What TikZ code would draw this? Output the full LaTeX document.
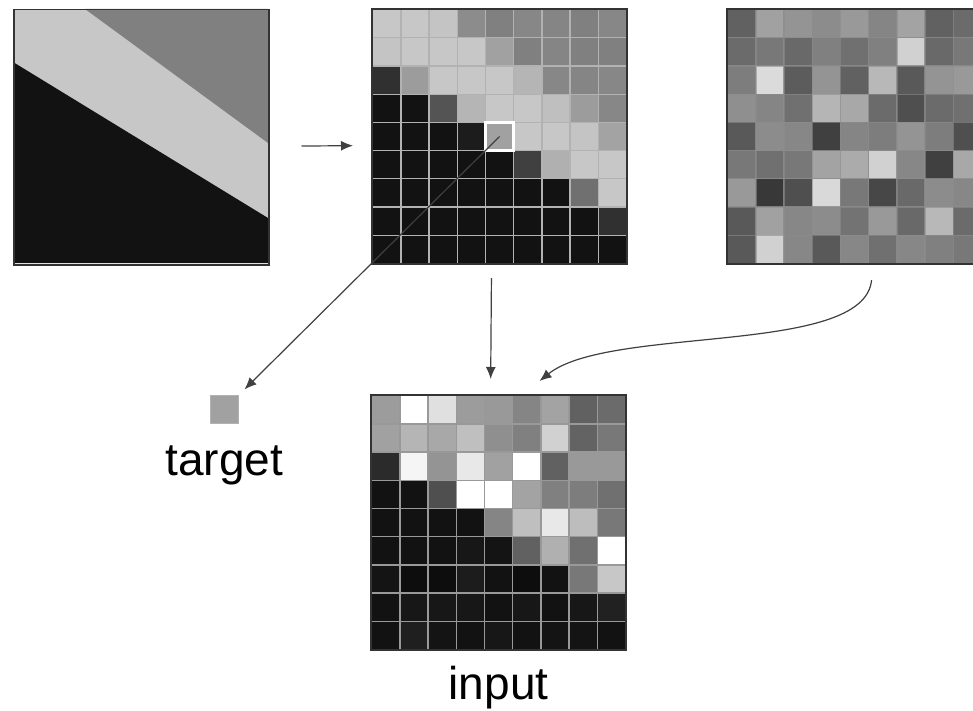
\documentclass[tikz,border=0pt]{standalone}
\usepackage{fontspec}
\setmainfont{Liberation Sans}
\usetikzlibrary{matrix,positioning,arrows.meta}
\tikzset{
pixmat/.style={
  matrix of nodes,
  nodes in empty cells,
  nodes={rectangle,draw=white!70!black,line width=1.3pt,
         minimum size=28.2pt,inner sep=0pt},
  inner sep=0pt,
  outer sep=0pt,
  column sep=-1.3pt,
  row sep=-1.3pt
  },
g/.style={fill=white!#1!black},
frame/.style={draw=black!80,line width=1.5pt},
arr/.style={->,draw=black!75,line width=1.2pt},
lbl/.style={font=\fontsize{46}{54}\selectfont,inner sep=0pt}
}

\begin{document}
\begin{tikzpicture}[>={Latex[length=12pt,width=10pt]},x=1pt,y=-1pt]

\useasboundingbox (0,0) rectangle (973,711);
\clip (0,0) rectangle (973,711);

% original scene
\fill[g=78] (13,9) rectangle (268,263);
\fill[g=50] (85,9) -- (268,9) -- (268,143) -- cycle;
\fill[g=7] (13,62) -- (268,218) -- (268,263) -- (13,263) -- cycle;
\node[frame,minimum size=255pt,inner sep=0pt,anchor=north west]
at (13,9)
(orig) {};

% pixelated scene
\matrix[pixmat,anchor=north west]
at (372,9)
(pix)
{
  |[g=78]| & |[g=78]| & |[g=77]| & |[g=55]| & |[g=50]| & |[g=53]| & |[g=52]| & |[g=50]| & |[g=53]| \\
  |[g=77]| & |[g=78]| & |[g=78]| & |[g=78]| & |[g=63]| & |[g=50]| & |[g=52]| & |[g=50]| & |[g=50]| \\
  |[g=19]| & |[g=61]| & |[g=78]| & |[g=78]| & |[g=78]| & |[g=71]| & |[g=53]| & |[g=52]| & |[g=53]| \\
  |[g=7]|  & |[g=7]|  & |[g=33]| & |[g=71]| & |[g=78]| & |[g=78]| & |[g=75]| & |[g=61]| & |[g=53]| \\
  |[g=7]|  & |[g=7]|  & |[g=7]|  & |[g=11]| & |[g=63]| & |[g=78]| & |[g=78]| & |[g=77]| & |[g=64]| \\
  |[g=7]|  & |[g=7]|  & |[g=7]|  & |[g=7]|  & |[g=7]|  & |[g=25]| & |[g=69]| & |[g=78]| & |[g=78]| \\
  |[g=7]|  & |[g=7]|  & |[g=7]|  & |[g=7]|  & |[g=7]|  & |[g=7]|  & |[g=7]|  & |[g=44]| & |[g=78]| \\
  |[g=7]|  & |[g=7]|  & |[g=7]|  & |[g=7]|  & |[g=7]|  & |[g=7]|  & |[g=7]|  & |[g=7]|  & |[g=19]| \\
  |[g=7]|  & |[g=7]|  & |[g=7]|  & |[g=7]|  & |[g=7]|  & |[g=7]|  & |[g=7]|  & |[g=7]|  & |[g=7]|  \\
};

% noise
\matrix[pixmat,anchor=north west,
    nodes={draw=white!55!black,draw opacity=0.6}]
at (727,9)
(noise)
{
  |[g=38]| & |[g=63]| & |[g=58]| & |[g=55]| & |[g=60]| & |[g=52]| & |[g=64]| & |[g=38]| & |[g=42]| \\
  |[g=42]| & |[g=47]| & |[g=41]| & |[g=50]| & |[g=44]| & |[g=50]| & |[g=82]| & |[g=41]| & |[g=47]| \\
  |[g=49]| & |[g=86]| & |[g=36]| & |[g=58]| & |[g=38]| & |[g=72]| & |[g=35]| & |[g=58]| & |[g=60]| \\
  |[g=56]| & |[g=52]| & |[g=44]| & |[g=71]| & |[g=66]| & |[g=42]| & |[g=31]| & |[g=42]| & |[g=44]| \\
  |[g=35]| & |[g=55]| & |[g=53]| & |[g=25]| & |[g=52]| & |[g=49]| & |[g=58]| & |[g=49]| & |[g=31]| \\
  |[g=47]| & |[g=44]| & |[g=47]| & |[g=64]| & |[g=67]| & |[g=82]| & |[g=53]| & |[g=25]| & |[g=66]| \\
  |[g=60]| & |[g=22]| & |[g=31]| & |[g=85]| & |[g=47]| & |[g=28]| & |[g=41]| & |[g=55]| & |[g=53]| \\
  |[g=35]| & |[g=63]| & |[g=53]| & |[g=55]| & |[g=45]| & |[g=60]| & |[g=41]| & |[g=72]| & |[g=42]| \\
  |[g=35]| & |[g=82]| & |[g=53]| & |[g=35]| & |[g=53]| & |[g=44]| & |[g=53]| & |[g=50]| & |[g=47]| \\
};

% noisy input
\matrix[pixmat,anchor=north west,
    nodes={draw=white!60!black}]
at (371,395)
(input)
{
  |[g=61]| & |[g=100]| & |[g=88]| & |[g=61]| & |[g=60]| & |[g=52]| & |[g=64]| & |[g=38]| & |[g=42]| \\
  |[g=63]| & |[g=71]| & |[g=66]| & |[g=75]| & |[g=56]| & |[g=50]| & |[g=82]| & |[g=39]| & |[g=47]| \\
  |[g=17]| & |[g=96]| & |[g=58]| & |[g=91]| & |[g=63]| & |[g=100]| & |[g=38]| & |[g=60]| & |[g=60]| \\
  |[g=7]|  & |[g=7]|  & |[g=31]| & |[g=100]| & |[g=100]| & |[g=64]| & |[g=50]| & |[g=49]| & |[g=44]| \\
  |[g=7]|  & |[g=7]|  & |[g=7]|  & |[g=7]|  & |[g=52]| & |[g=75]| & |[g=91]| & |[g=74]| & |[g=47]| \\
  |[g=7]|  & |[g=7]|  & |[g=7]|  & |[g=9]|  & |[g=8]|  & |[g=38]| & |[g=69]| & |[g=44]| & |[g=100]| \\
  |[g=8]|  & |[g=5]|  & |[g=5]|  & |[g=11]| & |[g=7]|  & |[g=5]|  & |[g=7]|  & |[g=47]| & |[g=78]| \\
  |[g=7]|  & |[g=9]|  & |[g=9]|  & |[g=9]|  & |[g=7]|  & |[g=9]|  & |[g=7]|  & |[g=9]|  & |[g=13]| \\
  |[g=7]|  & |[g=12]| & |[g=8]|  & |[g=7]|  & |[g=9]|  & |[g=7]|  & |[g=8]|  & |[g=8]|  & |[g=7]|  \\
};

\draw[frame] (pix.north west) rectangle (pix.south east);
\draw[frame] (noise.north west) rectangle (noise.south east);
\draw[frame] (input.north west) rectangle (input.south east);

% chosen pixel and its target
\node[draw=white,line width=2.5pt,minimum size=28.2pt,inner sep=0pt]
at (pix-5-5)
(hl) {};

\node[g=63,draw=black!30,line width=0.8pt,minimum size=28pt,inner sep=0pt,
    anchor=north west]
at (210,395)
(tgt) {};

\coordinate (nzout) at ([xshift=17pt,yshift=-16pt]noise.south);
\coordinate (nzin) at ([xshift=41pt,yshift=14pt]input.north);

\draw[arr,shorten <=32pt,shorten >=19pt] ([yshift=-9pt]orig.east) -- ([yshift=-9pt]pix.west);
\draw[arr,shorten >=8pt] (hl.center) -- (tgt.north east);
\draw[arr,shorten <=14pt,shorten >=16pt] ([xshift=-8pt]pix.south) -- ([xshift=-8pt]input.north);
\draw[arr] (nzout) .. controls +(-7,76) and +(70,-56) .. (nzin);

\node[lbl,below=52pt of tgt,anchor=base] (tgtlbl) {target};

\node[lbl,below=49pt of input,anchor=base] (inlbl) {input};

\end{tikzpicture}
\end{document}
